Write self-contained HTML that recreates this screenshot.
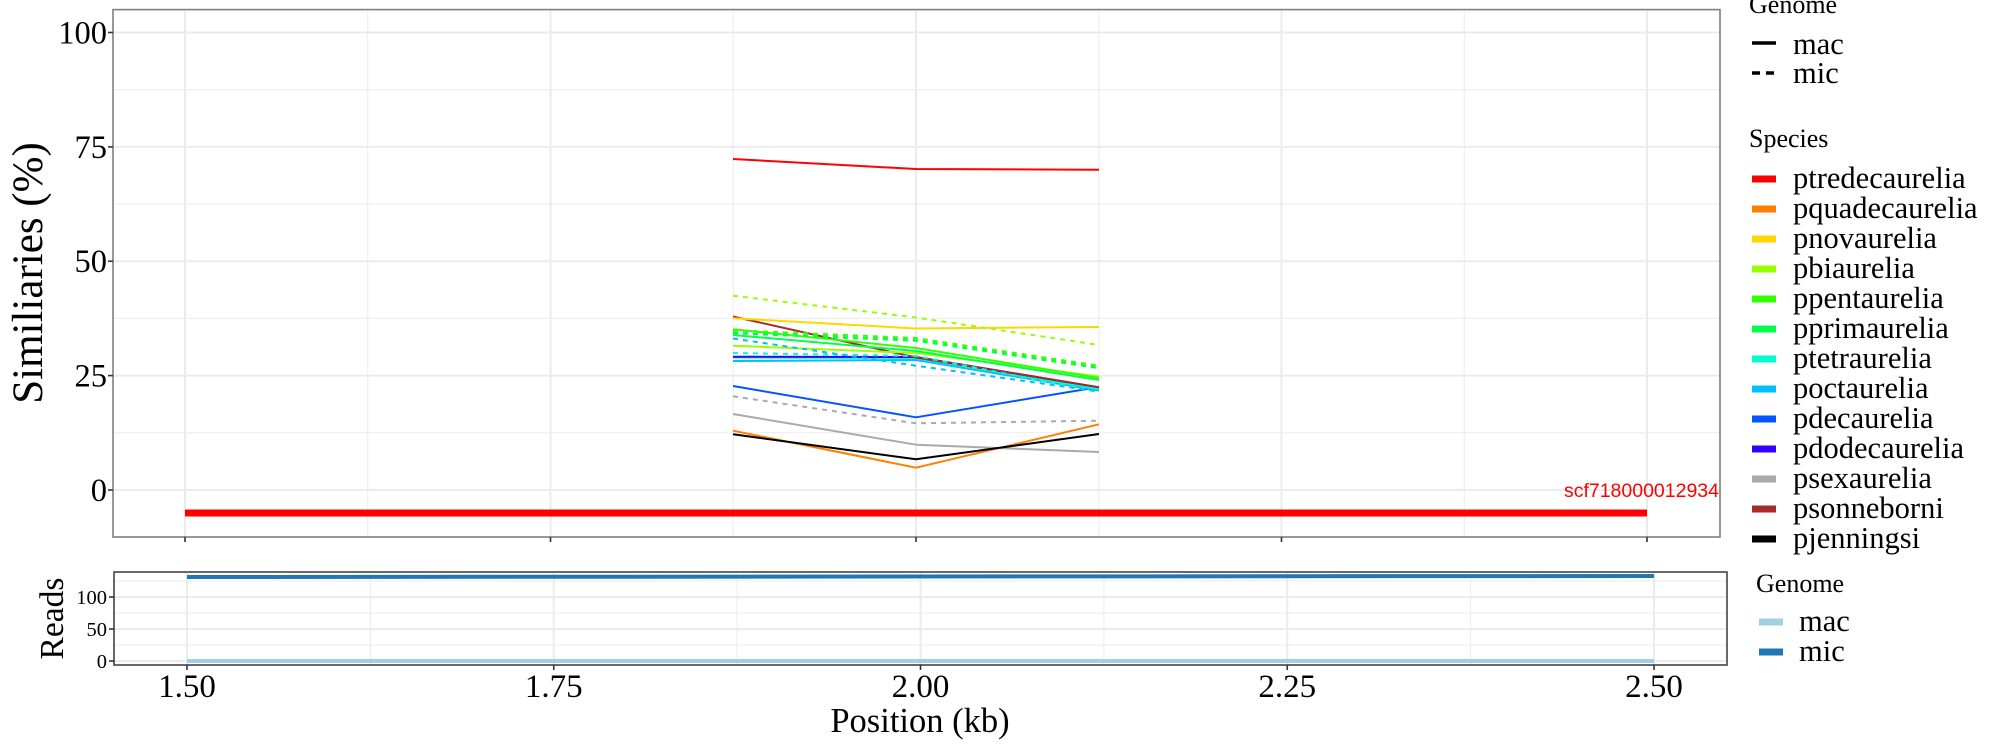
<!DOCTYPE html>
<html><head><meta charset="utf-8"><style>
html,body{margin:0;padding:0;background:#fff;}
svg{display:block;}
text{font-family:"Liberation Serif",serif;fill:#000;}
</style></head><body>
<svg width="2000" height="750" viewBox="0 0 2000 750" xmlns="http://www.w3.org/2000/svg">
<rect width="2000" height="750" fill="#fff"/>
<!-- TOP PANEL -->
<g stroke="#EBEBEB" fill="none">
  <g stroke-width="1">
    <line x1="113" x2="1720" y1="432.8" y2="432.8"/>
    <line x1="113" x2="1720" y1="318.4" y2="318.4"/>
    <line x1="113" x2="1720" y1="204.1" y2="204.1"/>
    <line x1="113" x2="1720" y1="89.7" y2="89.7"/>
    <line y1="10" y2="537" x1="367.75" x2="367.75"/>
    <line y1="10" y2="537" x1="733.25" x2="733.25"/>
    <line y1="10" y2="537" x1="1098.75" x2="1098.75"/>
    <line y1="10" y2="537" x1="1464.25" x2="1464.25"/>
  </g>
  <g stroke-width="2">
    <line x1="113" x2="1720" y1="490" y2="490"/>
    <line x1="113" x2="1720" y1="375.6" y2="375.6"/>
    <line x1="113" x2="1720" y1="261.25" y2="261.25"/>
    <line x1="113" x2="1720" y1="146.9" y2="146.9"/>
    <line x1="113" x2="1720" y1="32.5" y2="32.5"/>
    <line y1="10" y2="537" x1="185" x2="185"/>
    <line y1="10" y2="537" x1="550.5" x2="550.5"/>
    <line y1="10" y2="537" x1="916" x2="916"/>
    <line y1="10" y2="537" x1="1281.5" x2="1281.5"/>
    <line y1="10" y2="537" x1="1647" x2="1647"/>
  </g>
</g>
<!-- series -->
<g fill="none" stroke-width="2" stroke-linejoin="round">
  <polyline stroke="#AAAAAA" points="733,414 916,444.7 1099,452"/>
  <polyline stroke="#FF7F00" points="733,430.7 916,467.7 1099,424.3"/>
  <polyline stroke="#000000" points="733,434.3 916,459.3 1099,434"/>
  <polyline stroke="#0055FF" points="733,386 916,417.3 1099,387"/>
  <polyline stroke="#00BFFF" points="733,361 916,360 1099,390.5"/>
  <polyline stroke="#00FFCC" points="733,357.5 916,358 1099,389"/>
  <polyline stroke="#3300FF" points="733,356.7 916,357 1099,387.3"/>
  <polyline stroke="#A52A2A" points="733,316.5 916,357.5 1099,387.3"/>
  <polyline stroke="#99FF00" points="733,345.7 916,353 1099,376.5"/>
  <polyline stroke="#00FF4D" points="733,335 916,351 1099,380"/>
  <polyline stroke="#33FF00" points="733,329.3 916,348 1099,378"/>
  <polyline stroke="#FFD700" points="733,318.3 916,328.5 1099,327"/>
  <polyline stroke="#FF0000" points="733,159 916,169 1099,169.7"/>
  <g stroke-dasharray="5 5">
    <polyline stroke="#AAAAAA" points="733,396.3 916,423.3 1099,420.7"/>
    <polyline stroke="#00FFCC" points="733,353 916,356 1099,392"/>
    <polyline stroke="#00BFFF" points="733,338.5 916,365.7 1099,391.5"/>
    <polyline stroke="#00FF4D" stroke-width="2.5" points="733,333 916,340.5 1099,368"/>
    <polyline stroke="#33FF00" stroke-width="2.5" points="733,330.5 916,338.3 1099,366"/>
    <polyline stroke="#99FF00" points="733,295.7 916,317.5 1099,345"/>
  </g>
</g>
<!-- contig bar -->
<line x1="185" x2="1647" y1="513" y2="513" stroke="#FF0000" stroke-width="7"/>
<text x="1719" y="497" text-anchor="end" style="font-family:'Liberation Sans',sans-serif;font-size:19.5px;fill:#FF0000">scf718000012934</text>
<rect x="113" y="9.6" width="1607" height="527.4" fill="none" stroke="#7f7f7f" stroke-width="1.6"/>
<!-- top ticks -->
<g stroke="#333" stroke-width="1.6">
  <line x1="108" x2="113" y1="490" y2="490"/>
  <line x1="108" x2="113" y1="375.6" y2="375.6"/>
  <line x1="108" x2="113" y1="261.25" y2="261.25"/>
  <line x1="108" x2="113" y1="146.9" y2="146.9"/>
  <line x1="108" x2="113" y1="32.5" y2="32.5"/>
  <line y1="537" y2="542" x1="185" x2="185"/>
  <line y1="537" y2="542" x1="550.5" x2="550.5"/>
  <line y1="537" y2="542" x1="916" x2="916"/>
  <line y1="537" y2="542" x1="1281.5" x2="1281.5"/>
  <line y1="537" y2="542" x1="1647" x2="1647"/>
</g>
<g style="font-size:32.5px" text-anchor="end">
  <text x="107" y="501">0</text>
  <text x="107" y="386.6">25</text>
  <text x="107" y="272.2">50</text>
  <text x="107" y="157.9">75</text>
  <text x="107" y="43.5">100</text>
</g>
<text transform="translate(42,273) rotate(-90)" text-anchor="middle" style="font-size:43px">Similiaries (%)</text>

<!-- BOTTOM PANEL -->
<g stroke="#EBEBEB" fill="none">
  <g stroke-width="1">
    <line x1="114" x2="1727" y1="645" y2="645"/>
    <line x1="114" x2="1727" y1="613" y2="613"/>
    <line x1="114" x2="1727" y1="581" y2="581"/>
    <line y1="572" y2="665" x1="370.4" x2="370.4"/>
    <line y1="572" y2="665" x1="737.1" x2="737.1"/>
    <line y1="572" y2="665" x1="1103.9" x2="1103.9"/>
    <line y1="572" y2="665" x1="1470.6" x2="1470.6"/>
  </g>
  <g stroke-width="2">
    <line x1="114" x2="1727" y1="661" y2="661"/>
    <line x1="114" x2="1727" y1="629" y2="629"/>
    <line x1="114" x2="1727" y1="597" y2="597"/>
    <line y1="572" y2="665" x1="187" x2="187"/>
    <line y1="572" y2="665" x1="553.75" x2="553.75"/>
    <line y1="572" y2="665" x1="920.5" x2="920.5"/>
    <line y1="572" y2="665" x1="1287.25" x2="1287.25"/>
    <line y1="572" y2="665" x1="1654" x2="1654"/>
  </g>
</g>
<line x1="187" x2="1654" y1="661" y2="661" stroke="#A6CEE3" stroke-width="4"/>
<line x1="187" x2="1654" y1="577" y2="576" stroke="#1F78B4" stroke-width="4"/>
<rect x="114" y="572" width="1613" height="93" fill="none" stroke="#444" stroke-width="1.6"/>
<g stroke="#333" stroke-width="1.6">
  <line x1="109" x2="114" y1="661" y2="661"/>
  <line x1="109" x2="114" y1="629" y2="629"/>
  <line x1="109" x2="114" y1="597" y2="597"/>
  <line y1="665" y2="670" x1="187" x2="187"/>
  <line y1="665" y2="670" x1="553.75" x2="553.75"/>
  <line y1="665" y2="670" x1="920.5" x2="920.5"/>
  <line y1="665" y2="670" x1="1287.25" x2="1287.25"/>
  <line y1="665" y2="670" x1="1654" x2="1654"/>
</g>
<g style="font-size:20.5px" text-anchor="end">
  <text x="107" y="668">0</text>
  <text x="107" y="636">50</text>
  <text x="107" y="604">100</text>
</g>
<text transform="translate(63,618.5) rotate(-90)" text-anchor="middle" style="font-size:33.5px">Reads</text>
<g style="font-size:33px" text-anchor="middle">
  <text x="187" y="697">1.50</text>
  <text x="553.75" y="697">1.75</text>
  <text x="920.5" y="697">2.00</text>
  <text x="1287.25" y="697">2.25</text>
  <text x="1654" y="697">2.50</text>
</g>
<text x="920" y="732" text-anchor="middle" style="font-size:34.5px">Position (kb)</text>

<!-- LEGEND TOP -->
<text x="1749" y="13" style="font-size:26px">Genome</text>
<line x1="1752" x2="1776" y1="43" y2="43" stroke="#000" stroke-width="3.5"/>
<line x1="1752" x2="1776" y1="73" y2="73" stroke="#000" stroke-width="3.5" stroke-dasharray="8 6"/>
<g style="font-size:30.5px">
  <text x="1793" y="54">mac</text>
  <text x="1793" y="83">mic</text>
</g>
<text x="1749" y="147" style="font-size:26px">Species</text>
<g stroke-width="7">
  <line x1="1752" x2="1776" y1="179" y2="179" stroke="#FF0000"/>
  <line x1="1752" x2="1776" y1="209" y2="209" stroke="#FF7F00"/>
  <line x1="1752" x2="1776" y1="239" y2="239" stroke="#FFD700"/>
  <line x1="1752" x2="1776" y1="269" y2="269" stroke="#99FF00"/>
  <line x1="1752" x2="1776" y1="299" y2="299" stroke="#33FF00"/>
  <line x1="1752" x2="1776" y1="329" y2="329" stroke="#00FF4D"/>
  <line x1="1752" x2="1776" y1="359" y2="359" stroke="#00FFCC"/>
  <line x1="1752" x2="1776" y1="389" y2="389" stroke="#00BFFF"/>
  <line x1="1752" x2="1776" y1="419" y2="419" stroke="#0055FF"/>
  <line x1="1752" x2="1776" y1="449" y2="449" stroke="#3300FF"/>
  <line x1="1752" x2="1776" y1="479" y2="479" stroke="#AAAAAA"/>
  <line x1="1752" x2="1776" y1="509" y2="509" stroke="#A52A2A"/>
  <line x1="1752" x2="1776" y1="539" y2="539" stroke="#000000"/>
</g>
<g style="font-size:30.5px">
  <text x="1793" y="188">ptredecaurelia</text>
  <text x="1793" y="218">pquadecaurelia</text>
  <text x="1793" y="248">pnovaurelia</text>
  <text x="1793" y="278">pbiaurelia</text>
  <text x="1793" y="308">ppentaurelia</text>
  <text x="1793" y="338">pprimaurelia</text>
  <text x="1793" y="368">ptetraurelia</text>
  <text x="1793" y="398">poctaurelia</text>
  <text x="1793" y="428">pdecaurelia</text>
  <text x="1793" y="458">pdodecaurelia</text>
  <text x="1793" y="488">psexaurelia</text>
  <text x="1793" y="518">psonneborni</text>
  <text x="1793" y="548">pjenningsi</text>
</g>
<!-- LEGEND BOTTOM -->
<text x="1756" y="592" style="font-size:26px">Genome</text>
<line x1="1759" x2="1783" y1="622" y2="622" stroke="#A6CEE3" stroke-width="7"/>
<line x1="1759" x2="1783" y1="652" y2="652" stroke="#1F78B4" stroke-width="7"/>
<g style="font-size:30.5px">
  <text x="1799" y="631">mac</text>
  <text x="1799" y="661">mic</text>
</g>
</svg>
</body></html>
